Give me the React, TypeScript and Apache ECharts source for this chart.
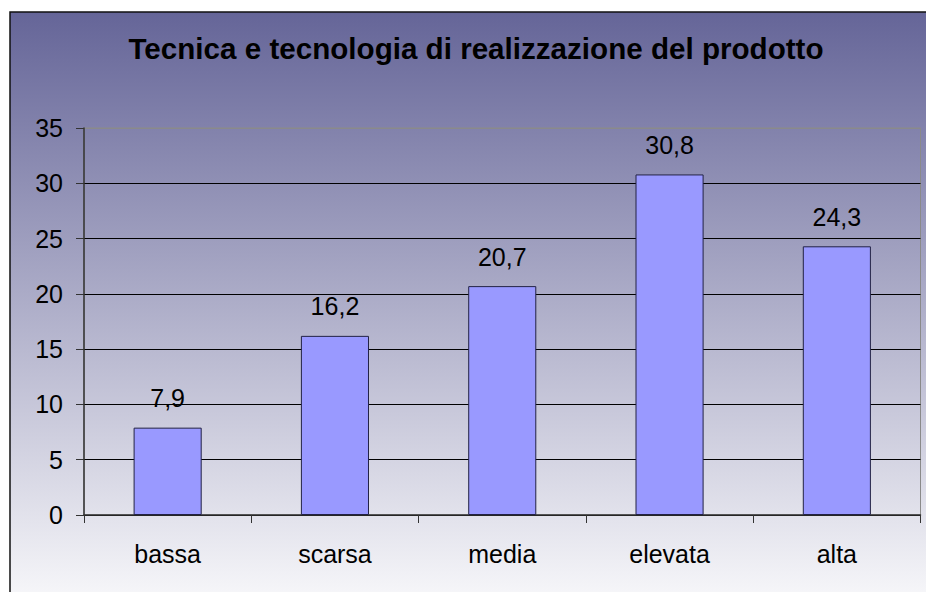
import React, { useEffect, useRef } from "react";
import * as echarts from "echarts";

const title = "Tecnica e tecnologia di realizzazione del prodotto";
const categories = ["bassa", "scarsa", "media", "elevata", "alta"];
const values = [7.9, 16.2, 20.7, 30.8, 24.3];
const yMin = 0;
const yMax = 35;
const yStep = 5;

const FONT = "'Liberation Sans', Arial, sans-serif";

export default function App() {
  const ref = useRef<HTMLDivElement>(null);
  useEffect(() => {
    if (!ref.current) return;
    const chart = echarts.init(ref.current, undefined, { renderer: "svg" });
    const gridColors = [] as string[];
    for (let v = yMin; v <= yMax; v += yStep) gridColors.push(v === yMax ? "#8a8a8a" : "#000000");
    chart.setOption({
      animation: false,
      graphic: [
        {
          type: "rect",
          z: -100,
          silent: true,
          shape: { x: 10, y: 12, width: 940, height: 620 },
          style: {
            fill: new echarts.graphic.LinearGradient(0, 0, 0, 1, [
              { offset: 0, color: "#656598" },
              { offset: 1, color: "#ffffff" },
            ]),
            stroke: "#111111",
            lineWidth: 1.5,
          },
        },
        {
          type: "text",
          x: 476,
          y: 48.5,
          z: 10,
          style: {
            text: title,
            fill: "#000000",
            font: `bold 29.6px ${FONT}`,
            align: "center",
            verticalAlign: "middle",
          },
        },
      ],
      grid: {
        left: 84,
        top: 128,
        width: 836.5,
        height: 387,
        show: true,
        borderColor: "#8a8a8a",
        borderWidth: 1,
        backgroundColor: "transparent",
      },
      xAxis: {
        type: "category",
        data: categories,
        axisLine: { show: true, lineStyle: { color: "#333333", width: 1.5 } },
        axisTick: { show: true, length: 8, lineStyle: { color: "#333333" } },
        axisLabel: { margin: 26, fontSize: 25, fontFamily: FONT, color: "#000000" },
        splitLine: { show: false },
      },
      yAxis: {
        type: "value",
        min: yMin,
        max: yMax,
        interval: yStep,
        axisLine: { show: true, lineStyle: { color: "#333333", width: 1.5 } },
        axisTick: { show: true, length: 8, lineStyle: { color: "#333333" } },
        axisLabel: { margin: 21, fontSize: 25, fontFamily: FONT, color: "#000000" },
        splitLine: { show: true, lineStyle: { color: gridColors, width: 1 } },
      },
      series: [
        {
          type: "bar",
          data: values,
          barWidth: "40.7%",
          itemStyle: { color: "#9999ff", borderColor: "#222244", borderWidth: 1 },
          label: {
            show: true,
            position: "top",
            distance: 17,
            fontSize: 25,
            fontFamily: FONT,
            color: "#000000",
            formatter: (p: any) => String(p.value).replace(".", ","),
          },
        },
      ],
    });
    return () => chart.dispose();
  }, []);
  return (
    <div
      ref={ref}
      style={{ position: "absolute", left: 0, top: 0, width: 926, height: 592, background: "#ffffff" }}
    />
  );
}
